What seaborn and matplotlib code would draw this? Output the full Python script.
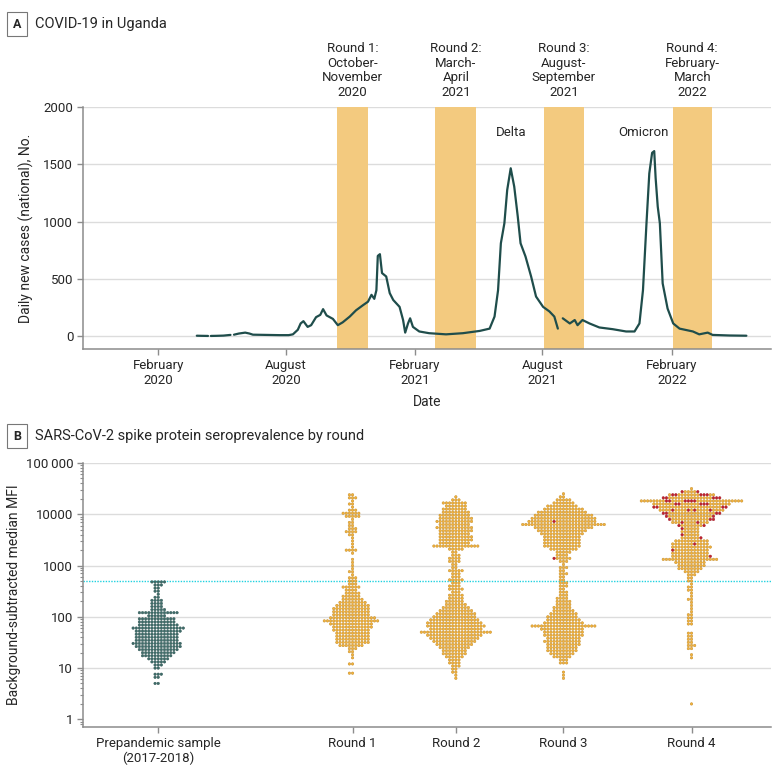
import numpy as np
import pandas as pd
import seaborn as sns
import matplotlib.pyplot as plt
from matplotlib.ticker import FixedLocator, FixedFormatter, LogLocator, NullFormatter

# ---- panel A: daily new cases, segment = unbroken piece of line
case_dates = [
    "2020-03-27", "2020-04-03", "2020-04-12",
    "2020-04-16", "2020-04-24", "2020-05-04", "2020-05-14",
    "2020-05-19", "2020-05-26", "2020-06-04", "2020-06-10", "2020-06-15", "2020-07-04",
    "2020-07-23", "2020-08-05", "2020-08-11", "2020-08-18", "2020-08-22", "2020-08-26",
    "2020-09-01", "2020-09-06", "2020-09-13", "2020-09-19", "2020-09-23", "2020-09-28",
    "2020-10-07", "2020-10-14", "2020-10-21", "2020-10-31", "2020-11-09", "2020-11-19",
    "2020-11-26", "2020-12-01", "2020-12-05", "2020-12-08", "2020-12-10", "2020-12-13",
    "2020-12-16", "2020-12-22", "2020-12-27", "2021-01-01", "2021-01-10", "2021-01-15",
    "2021-01-18", "2021-01-22", "2021-01-25", "2021-01-29", "2021-02-07", "2021-02-21",
    "2021-03-17", "2021-04-10", "2021-05-04", "2021-05-18", "2021-05-25", "2021-05-30",
    "2021-06-03", "2021-06-08", "2021-06-12", "2021-06-17", "2021-06-22", "2021-06-27",
    "2021-07-01", "2021-07-08", "2021-07-16", "2021-07-23", "2021-08-02", "2021-08-11",
    "2021-08-18", "2021-08-23",
    "2021-08-30", "2021-09-09", "2021-09-16", "2021-09-20", "2021-09-27", "2021-10-07",
    "2021-10-21", "2021-11-09", "2021-11-28", "2021-12-10", "2021-12-17", "2021-12-22",
    "2021-12-27", "2021-12-31", "2022-01-04", "2022-01-07", "2022-01-09", "2022-01-12",
    "2022-01-15", "2022-01-19", "2022-01-26", "2022-02-03", "2022-02-12", "2022-03-03",
    "2022-03-12", "2022-03-24", "2022-03-31", "2022-04-24", "2022-05-18",
]
case_values = [
    3, 2, 1,
    1, 2, 4, 10,
    12, 22, 30, 22, 12, 10,
    8, 8, 15, 55, 110, 130,
    80, 95, 165, 185, 235, 180,
    150, 95, 120, 170, 225, 270,
    300, 360, 325, 400, 700, 715,
    550, 520, 375, 315, 255, 140,
    30, 110, 155, 80, 40, 25,
    15, 25, 45, 65, 170, 400,
    810, 985, 1275, 1465, 1305, 1045,
    810, 695, 520, 345, 255, 215,
    170, 65,
    155, 110, 140, 95, 140, 110,
    75, 60, 40, 40, 110, 400,
    985, 1420, 1600, 1615, 1380, 1130,
    985, 460, 240, 110, 65, 40,
    15, 30, 10, 5, 3,
]
case_segment = [1] * 3 + [2] * 4 + [3] * 62 + [4] * 29

round_labels = ["Round 1:\nOctober-\nNovember\n2020", "Round 2:\nMarch-\nApril\n2021",
                "Round 3:\nAugust-\nSeptember\n2021", "Round 4:\nFebruary-\nMarch\n2022"]
round_start = ["2020-10-13", "2021-03-02", "2021-08-03", "2022-02-02"]
round_end = ["2020-11-26", "2021-04-29", "2021-09-29", "2022-03-30"]

date_ticks = ["2020-02-01", "2020-08-01", "2021-02-01", "2021-08-01", "2022-02-01"]
date_tick_labels = ["February\n2020", "August\n2020", "February\n2021", "August\n2021", "February\n2022"]
date_limits = ["2019-10-17", "2022-06-22"]

# ---- panel B: swarm rows. log10(MFI) of the lowest row, then dots per row (one row per 0.06 decade)
group_names = ["Prepandemic sample\n(2017-2018)", "Round 1", "Round 2", "Round 3", "Round 4"]
group_dates = ["2020-02-01", "2020-11-04", "2021-03-31", "2021-08-31", "2022-03-01"]
ROW_STEP = 0.06

pre_low = 0.70
pre_rows = [2, 0, 2, 3, 0, 2, 3, 5, 7, 10, 11, 13, 15, 16, 14, 14, 14, 15, 17, 13,
            12, 12, 6, 13, 5, 4, 4, 4, 2, 1, 2, 2, 3, 5]

r1_low = 0.90
r1_rows = [2, 0, 0, 2, 0, 1, 1, 2, 3, 8, 11, 11, 11, 11, 12, 13, 14, 18, 15, 12,
           12, 12, 11, 9, 7, 6, 5, 4, 6, 3, 3, 3, 1, 2, 1, 1, 1, 1, 0, 1, 4, 1, 1,
           1, 1, 2, 4, 3, 2, 2, 1, 5, 6, 3, 1, 2, 1, 3, 2]

r2_low = 0.80
r2_rows = [1, 1, 2, 2, 3, 4, 4, 6, 8, 8, 10, 12, 14, 16, 18, 23, 17, 19, 18, 16,
           14, 13, 11, 9, 7, 6, 5, 5, 3, 5, 4, 3, 5, 3, 3, 5, 2, 2, 4, 4, 3, 2, 5,
           15, 10, 11, 11, 10, 11, 12, 10, 12, 11, 10, 9, 8, 7, 8, 3, 1]

r3_low = 0.80
r3_rows = [1, 1, 1, 0, 0, 3, 3, 6, 8, 10, 10, 11, 12, 11, 13, 13, 14, 21, 13, 11,
           10, 9, 7, 6, 5, 5, 4, 3, 3, 2, 3, 3, 2, 2, 3, 2, 3, 1, 3, 6, 4, 5, 9,
           12, 12, 12, 12, 14, 16, 19, 27, 22, 21, 19, 16, 13, 10, 7, 5, 2, 1]
r3_red_low = 3.14
r3_red_rows = [1, 0, 0, 0, 0, 0, 0, 0, 0, 0, 0, 0, 1]

r4_low = 0.30
r4_rows = [1, 0, 0, 0, 0, 0, 0, 0, 0, 0, 0, 0, 0, 0, 0,
           1, 1, 0, 2, 3, 2, 2, 2, 2, 0, 0, 2, 2, 2, 2, 1, 1, 1, 1, 2, 1, 1, 2, 2,
           1, 2, 2, 3, 5, 8, 9, 10, 18, 13, 12, 12, 13, 12, 11, 7, 6, 6, 6, 9, 12,
           15, 16, 19, 21, 24, 25, 33, 19, 15, 6, 1]
r4_red_low = 3.18
r4_red_rows = [1, 0, 1, 0, 1, 0, 1, 1, 0, 1, 2, 2, 3, 2, 4, 4, 4, 5, 6, 5, 5, 2]

threshold = 500


def dec_year(dates):
    d = pd.DatetimeIndex(pd.to_datetime(dates))
    return (d.year + (d.dayofyear - 1) / (365 + d.is_leap_year.astype(int))).to_numpy()


def expand(low, rows):
    levels = low + ROW_STEP * np.arange(len(rows))
    return np.repeat(10 ** levels, rows)


LINE = "#1f4d4b"
BAND = "#f3ca7f"
GRID = "#dcdcdc"
SPINE = "#8c8c8c"
palette = {"pre": "#3f6e6b", "main": "#f7b43a", "red": "#c8202e"}

sns.set_style("ticks")
plt.rcParams["font.family"] = ["Roboto", "DejaVu Sans"]
plt.rcParams["font.size"] = 9.5

fig = plt.figure(figsize=(7.8, 7.75), dpi=100)
axa = fig.add_axes([83 / 780, 1 - 349 / 775, 688 / 780, 242 / 775])
axb = fig.add_axes([83 / 780, 1 - 727 / 775, 688 / 780, 264 / 775])
xlim = dec_year(date_limits)

# ---------------- panel A
for y in [0, 500, 1000, 1500, 2000]:
    axa.axhline(y, color=GRID, lw=1, zorder=0)
for s, e, lab in zip(round_start, round_end, round_labels):
    x0, x1 = dec_year([s, e])
    axa.axvspan(x0, x1, color=BAND, lw=0, zorder=1)
    axa.annotate(lab, xy=((x0 + x1) / 2, 1.0), xycoords=("data", "axes fraction"),
                 xytext=(0, 6), textcoords="offset points", ha="center", va="bottom",
                 fontsize=9.5, linespacing=1.15)

cases = pd.DataFrame({"t": dec_year(case_dates), "cases": case_values, "segment": case_segment})
sns.lineplot(data=cases, x="t", y="cases", units="segment", estimator=None,
             color=LINE, lw=1.6, ax=axa, zorder=3)
axa.text(dec_year(["2021-06-17"])[0], 1780, "Delta", ha="center", va="center", fontsize=9.5)
axa.text(dec_year(["2021-12-22"])[0], 1780, "Omicron", ha="center", va="center", fontsize=9.5)

axa.set_xlim(*xlim)
axa.set_ylim(-113, 2000)
axa.set_yticks([0, 500, 1000, 1500, 2000])
axa.xaxis.set_major_locator(FixedLocator(dec_year(date_ticks)))
axa.xaxis.set_major_formatter(FixedFormatter(date_tick_labels))
axa.set_ylabel("Daily new cases (national), No.", fontsize=10)
axa.yaxis.set_label_coords(-0.071, 0.5)
axa.set_xlabel("Date", fontsize=10)
axa.xaxis.set_label_coords(0.5, -0.19)

# ---------------- panel B
axb.set_yscale("log")
for y in [10, 100, 1000, 10000, 100000]:
    axb.axhline(y, color=GRID, lw=1, zorder=0)
axb.axhline(threshold, color="#20d2e0", lw=1.0, ls=(0, (1, 1)), zorder=1)

groups = [
    (expand(pre_low, pre_rows), np.array([])),
    (expand(r1_low, r1_rows), np.array([])),
    (expand(r2_low, r2_rows), np.array([])),
    (expand(r3_low, r3_rows), expand(r3_red_low, r3_red_rows)),
    (expand(r4_low, r4_rows), expand(r4_red_low, r4_red_rows)),
]
group_x = dec_year(group_dates)
for i, ((vals, reds), gx) in enumerate(zip(groups, group_x)):
    # red dots are part of the total row counts
    main = list(vals)
    for r in reds:
        j = int(np.argmin(np.abs(np.log10(main) - np.log10(r))))
        main.pop(j)
    kind = ("pre" if i == 0 else "main")
    df = pd.DataFrame({
        "x": gx,
        "mfi": np.concatenate([main, reds]),
        "kind": [kind] * len(main) + ["red"] * len(reds),
    })
    sns.swarmplot(data=df, x="x", y="mfi", hue="kind", hue_order=["pre", "main", "red"],
                  palette=palette, native_scale=True, orient="x", size=1.75,
                  linewidth=0.4, legend=False, ax=axb, zorder=3)
    coll = axb.collections[-1]
    fc = np.array(coll.get_facecolors())
    ec = fc.copy()
    ec[:, :3] *= 0.8
    coll.set_edgecolors(ec)

axb.set_xlim(*xlim)
axb.set_ylim(10 ** -0.15, 1e5)
axb.yaxis.set_major_locator(FixedLocator([1, 10, 100, 1000, 10000, 100000]))
axb.yaxis.set_major_formatter(FixedFormatter(["1", "10", "100", "1000", "10000", "100\u2009000"]))
axb.yaxis.set_minor_locator(LogLocator(base=10, subs=np.arange(2, 10)))
axb.yaxis.set_minor_formatter(NullFormatter())
axb.xaxis.set_major_locator(FixedLocator(group_x))
axb.xaxis.set_major_formatter(FixedFormatter(group_names))
axb.set_xlabel("")
axb.set_ylabel("Background-subtracted median MFI", fontsize=10)
axb.yaxis.set_label_coords(-0.090, 0.5)

for ax in (axa, axb):
    for side in ("top", "right"):
        ax.spines[side].set_visible(False)
    for side in ("left", "bottom"):
        ax.spines[side].set_color(SPINE)
        ax.spines[side].set_linewidth(1.1)
    ax.tick_params(axis="both", which="major", length=4, width=1, color=SPINE,
                   labelsize=9.5, pad=3)
    ax.tick_params(axis="y", which="minor", length=2.5, width=0.8, color=SPINE)
    ax.grid(False)

# panel letters and titles
for ypx, letter, title in [(24, "A", "COVID-19 in Uganda"),
                           (436, "B", "SARS-CoV-2 spike protein seroprevalence by round")]:
    fig.text(17 / 780, 1 - ypx / 775, letter, ha="center", va="center", fontsize=9,
             fontweight="bold",
             bbox=dict(boxstyle="square,pad=0.45", fc="white", ec="#777777", lw=0.8))
    fig.text(35 / 780, 1 - ypx / 775, title, ha="left", va="center", fontsize=10.5)

fig.savefig("out.png", dpi=100)
